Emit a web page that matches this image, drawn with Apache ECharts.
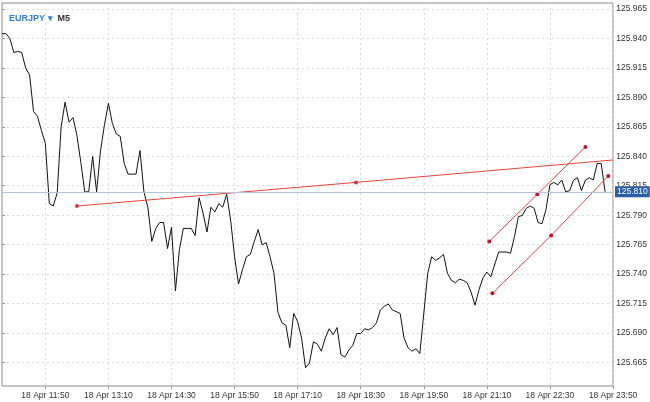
<!DOCTYPE html>
<html><head><meta charset="utf-8">
<script src="https://cdn.jsdelivr.net/npm/echarts@6/dist/echarts.min.js"></script>
<style>html,body{margin:0;padding:0;background:#fff}#c{width:650px;height:402px}</style>
</head><body><div id="c"></div>
<script>
const priceIdx = [0,1,2,3,4,5,6,7,8,9,10,11,12,13,14,15,16,17,18,19,20,21,22,23,24,25,26,27,28,29,30,31,32,
34,35,36,37,38,39,40,41,42,43,44,45,46,47,48,49,50,51,52,53,54,55,56,57,58,59,60,61,62,63,64,65,66,67,68,69,70,71,72,73,74,75,76,77,78,79,80,81,82,83,84,85,86,87,88,89,90,91,92,93,94,95,96,97,98,99,
101,102,103,104,105,106,108,109,110,111,112,113,114,115,116,117,118,119,120,121,122,123,124,126,128,129,130,131,132,133,134,135,136,137,138,139,140,141,142,143,144,145,146,147,148,149,150,151,152,153];
const priceVal = [125.944,125.944,125.940,125.928,125.929,125.928,125.915,125.909,125.878,125.874,125.862,125.851,125.800,125.798,125.809,125.865,125.886,125.869,125.873,125.858,125.835,125.810,125.810,125.840,125.810,125.845,125.867,125.885,125.868,125.859,125.857,125.834,125.825,
125.825,125.845,125.810,125.797,125.768,125.779,125.784,125.784,125.762,125.780,125.726,125.761,125.779,125.779,125.779,125.773,125.805,125.792,125.776,125.797,125.793,125.800,125.797,125.808,125.786,125.755,125.732,125.744,125.755,125.757,125.768,125.778,125.765,125.767,125.755,125.741,125.708,125.699,125.697,125.678,125.707,125.700,125.686,125.661,125.665,125.683,125.681,125.675,125.686,125.694,125.689,125.695,125.672,125.670,125.676,125.680,125.690,125.690,125.694,125.693,125.695,125.699,125.710,125.713,125.715,125.710,
125.707,125.686,125.678,125.675,125.677,125.673,125.741,125.755,125.752,125.754,125.757,125.741,125.735,125.733,125.736,125.735,125.733,125.725,125.714,125.727,125.737,125.742,125.738,125.759,125.759,125.758,125.772,125.789,125.790,125.796,125.798,125.796,125.784,125.783,125.795,125.816,125.818,125.816,125.820,125.810,125.811,125.820,125.822,125.811,125.820,125.822,125.820,125.834,125.834,125.810];
const lastPrice = 125.810;
const trendLine = [[19.0,125.798],[89.8,125.818],[155,125.837]];
const trendDots = [[19.0,125.798],[89.8,125.818]];
const chanUpper = [[123.6,125.768],[135.8,125.808],[148.0,125.848]];
const chanLower = [[124.4,125.724],[139.3,125.773],[153.8,125.8235]];
const yTicks = {min:125.640, max:125.970, step:0.025};

const cats = [];
for (let m = 10*60+55; m <= 23*60+50; m += 5) {
  const h = Math.floor(m/60), mm = m%60;
  cats.push('18 Apr ' + h + ':' + String(mm).padStart(2,'0'));
}
const price = priceIdx.map((i,k)=>[i,priceVal[k]]);
const red = '#e8453c';
const chart = echarts.init(document.getElementById('c'));
const gridBase = {left:2, right:37};
chart.setOption({
  animation:false,
  title:{text:'{a|EURJPY ▾} {b|M5}', left:4, top:5,
    textStyle:{rich:{a:{color:'#2f7fd6',fontSize:9,fontFamily:'Helvetica, Arial, sans-serif'},b:{color:'#333',fontSize:9,fontFamily:'Helvetica, Arial, sans-serif'}}}},
  grid:[
    Object.assign({top:3, bottom:16, show:true, borderColor:'#8a8a8a', borderWidth:1}, gridBase),
    Object.assign({top:3, bottom:10, show:false}, gridBase)
  ],
  xAxis:[
    {type:'category', gridIndex:0, data:cats, boundaryGap:false,
     axisLine:{show:false}, axisTick:{show:true, length:3, lineStyle:{color:'#999'}, interval:(i)=>(i-11)%16===0 && i>=11},
     axisLabel:{interval:(i)=>(i-11)%16===0 && i>=11, fontSize:8.5, color:'#333', margin:5, fontFamily:'Helvetica, Arial, sans-serif', showMaxLabel:true},
     splitLine:{show:true, interval:(i)=>(i-11)%16===0 && i>=11, lineStyle:{color:'#dcdcdc', type:[2,3]}}},
    {type:'value', gridIndex:0, min:0, max:155, show:false},
    {type:'value', gridIndex:1, min:0, max:155, show:false}
  ],
  yAxis:[
    {type:'value', gridIndex:0, min:125.6455, max:125.970, show:false, scale:true},
    {type:'value', gridIndex:1, position:'right', min:yTicks.min, max:yTicks.max, interval:yTicks.step,
     axisLine:{show:false}, axisTick:{show:true, length:3, lineStyle:{color:'#999'}},
     splitLine:{show:true, showMinLine:false, showMaxLine:false, lineStyle:{color:'#dcdcdc', type:[2,3]}},
     axisLabel:{fontSize:8.5, color:'#333', margin:4, fontFamily:'Helvetica, Arial, sans-serif', showMinLabel:false, showMaxLabel:false,
       formatter:(v)=> v < 125.65 ? '' : v.toFixed(3)}}
  ],
  series:[
    {type:'line', xAxisIndex:1, yAxisIndex:0, data:price, showSymbol:false, lineStyle:{color:'#111', width:1}, z:3,
     markLine:{silent:true, symbol:'none', data:[{yAxis:lastPrice}], lineStyle:{color:'#b5c3d6', width:1, type:'solid'},
       label:{position:'end', formatter:lastPrice.toFixed(3), color:'#fff', backgroundColor:'#2a5da8', fontSize:8.5, padding:[1,2], distance:2}}},
    {type:'line', xAxisIndex:1, yAxisIndex:0, data:trendLine, showSymbol:false, lineStyle:{color:red, width:1}, z:4},
    {type:'scatter', xAxisIndex:1, yAxisIndex:0, data:trendDots, symbolSize:4, itemStyle:{color:'#c8102e'}, z:5},
    {type:'line', xAxisIndex:1, yAxisIndex:0, data:chanUpper, symbol:'circle', symbolSize:4, itemStyle:{color:'#c8102e'}, lineStyle:{color:red, width:1}, z:4},
    {type:'line', xAxisIndex:1, yAxisIndex:0, data:chanLower, symbol:'circle', symbolSize:4, itemStyle:{color:'#c8102e'}, lineStyle:{color:red, width:1}, z:4}
  ]
});
</script></body></html>
